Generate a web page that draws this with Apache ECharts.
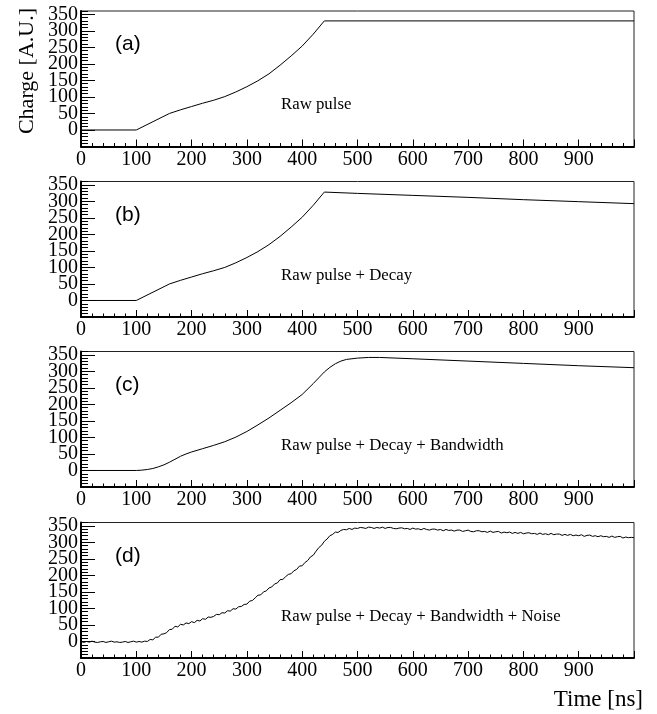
<!DOCTYPE html>
<html>
<head>
<meta charset="utf-8">
<script src="https://cdn.jsdelivr.net/npm/echarts@6/dist/echarts.min.js"></script>
<style>
  html, body { margin: 0; padding: 0; background: #fff; }
  #pulse-chart { width: 657px; height: 714px; }
</style>
</head>
<body>
<div id="pulse-chart"></div>
<script>
// (a) raw pulse
const rawTime = [0, 100, 160, 180, 200, 220, 240, 260, 280, 300, 320, 340, 360, 380, 400, 420, 440, 1000]
const rawCharge = [0, 0, 50, 61, 71, 81, 90, 101, 115, 131, 149, 170, 196, 224, 254, 290, 330, 330]

// (b) raw pulse + decay
const decayTime = [0, 100, 160, 180, 200, 220, 240, 260, 280, 300, 320, 340, 360, 380, 400, 420, 440, 500, 600, 700, 800, 900, 1000]
const decayCharge = [0, 0, 50, 61, 71, 81, 90, 100, 114, 130, 148, 169, 194, 222, 252, 288, 328, 324, 318, 312, 305, 299, 293]

// (c) + bandwidth
const bwTime = [0, 100, 110, 120, 130, 140, 150, 160, 170, 180, 190, 200, 220, 240, 260, 280, 300, 320, 340, 360,
  380, 400, 420, 440, 450, 460, 470, 480, 500, 520, 540, 600, 700, 800, 900, 1000]
const bwCharge = [0, 0, 1, 3, 6, 11, 17, 25, 34, 43, 50, 56, 66, 76, 87, 101, 118, 138, 159, 182,
  205, 230, 263, 298, 312, 323, 331, 336, 340, 342, 342, 338, 331, 324, 317, 311]

// (d) + noise, sampled every 5 ns from 0 to 1000
const noiseStep = 5
const noiseCharge = [
  0, -3, 0, -2, 1, -2, -3, -1, 0, -3,
  -1, 1, -2, -1, -3, -2, 0, -3, -1, 1,
  -2, 0, -2, 1, 0, 6, 5, 13, 13, 22,
  23, 27, 36, 37, 46, 44, 52, 50, 56, 54,
  60, 57, 64, 62, 69, 67, 74, 73, 76, 82,
  81, 87, 86, 93, 92, 99, 98, 105, 106, 112,
  113, 122, 124, 132, 140, 141, 150, 153, 162, 165,
  174, 177, 187, 188, 196, 203, 205, 214, 218, 228,
  229, 239, 245, 256, 261, 273, 284, 291, 303, 310,
  320, 324, 331, 330, 336, 339, 338, 342, 339, 343,
  342, 345, 344, 342, 346, 345, 342, 345, 343, 346,
  342, 345, 345, 342, 341, 343, 344, 341, 342, 339,
  343, 340, 341, 338, 342, 339, 337, 340, 340, 337,
  339, 335, 339, 336, 337, 334, 337, 337, 333, 335,
  337, 333, 332, 335, 335, 332, 333, 330, 334, 330,
  332, 333, 328, 331, 329, 331, 327, 330, 327, 330,
  326, 328, 329, 326, 327, 324, 328, 324, 326, 323,
  327, 323, 325, 325, 321, 324, 321, 324, 320, 322,
  320, 323, 318, 321, 322, 318, 320, 317, 320, 317,
  318, 315, 319, 315, 317, 318, 313, 316, 314, 315,
  314
]

const panelLabels = ['(a)', '(b)', '(c)', '(d)']
const panelNotes = ['Raw pulse', 'Raw pulse + Decay', 'Raw pulse + Decay + Bandwidth', 'Raw pulse + Decay + Bandwidth + Noise']
const xTitle = 'Time [ns]'
const yTitle = 'Charge [A.U.]'

const serif = 'Liberation Serif'
const zip = (xs, ys) => xs.map((x, i) => [x, ys[i]])
const noiseData = noiseCharge.map((v, i) => [i * noiseStep, v])
const panelData = [zip(rawTime, rawCharge), zip(decayTime, decayCharge), zip(bwTime, bwCharge), noiseData]

// 每个面板的位置
const panelTops = [11, 181.5, 351.5, 522.5]
const panelHeight = 135.5

const chart = echarts.init(document.getElementById('pulse-chart'))

const grids = panelTops.map(top => ({
  left: 81,
  top: top,
  width: 553,
  height: panelHeight,
  show: true,
  borderColor: '#222',
  borderWidth: 1,
  containLabel: false
}))

const xAxes = panelTops.map((t, i) => ({
  type: 'value',
  gridIndex: i,
  min: 0,
  max: 1000,
  interval: 100,
  axisLine: { show: true, onZero: false, lineStyle: { color: '#000', width: 2 } },
  axisTick: { show: true, inside: true, length: 7, lineStyle: { color: '#000' } },
  minorTick: { show: true, splitNumber: 5, length: 3.5, lineStyle: { color: '#000' } },
  axisLabel: { color: '#000', fontFamily: serif, fontSize: 20, margin: 3, showMaxLabel: false },
  splitLine: { show: false }
}))

// 主刻度 (50) 带标签
const yMain = panelTops.map((t, i) => ({
  type: 'value',
  gridIndex: i,
  min: -50,
  max: 360,
  interval: 50,
  axisLine: { show: true, onZero: false, lineStyle: { color: '#000', width: 2 } },
  axisTick: { show: true, inside: true, length: 14, lineStyle: { color: '#000' } },
  axisLabel: { color: '#000', fontFamily: serif, fontSize: 20, margin: 3, showMinLabel: false, showMaxLabel: false },
  splitLine: { show: false }
}))

// 次刻度 (10) 只画刻度线
const yMinor = panelTops.map((t, i) => ({
  type: 'value',
  gridIndex: i,
  min: -50,
  max: 360,
  interval: 10,
  position: 'left',
  axisLine: { show: false },
  axisTick: { show: true, inside: true, length: 7, lineStyle: { color: '#000' } },
  axisLabel: { show: false },
  splitLine: { show: false }
}))

const series = panelData.map((data, i) => ({
  type: 'line',
  xAxisIndex: i,
  yAxisIndex: i,
  data: data,
  showSymbol: false,
  lineStyle: { color: '#000', width: 1 },
  silent: true
}))

const graphics = []
panelTops.forEach((top, i) => {
  graphics.push({
    type: 'text',
    left: 115,
    top: top + 34 - 11,
    style: { text: panelLabels[i], fontFamily: 'Liberation Sans', fontSize: 21, fill: '#000' }
  })
  graphics.push({
    type: 'text',
    x: 281,
    y: top + 94,
    style: { text: panelNotes[i], fontFamily: serif, fontSize: 16.8, fill: '#000', textAlign: 'left', textVerticalAlign: 'middle' }
  })
})
graphics.push({
  type: 'text',
  x: 27,
  y: 8,
  rotation: Math.PI / 2,
  style: { text: yTitle, fontFamily: serif, fontSize: 22, fill: '#000', textAlign: 'right', textVerticalAlign: 'middle' }
})
graphics.push({
  type: 'text',
  x: 643,
  y: 700,
  style: { text: xTitle, fontFamily: serif, fontSize: 23, fill: '#000', textAlign: 'right', textVerticalAlign: 'middle' }
})

const option = {
  animation: false,
  backgroundColor: '#fff',
  grid: grids,
  xAxis: xAxes,
  yAxis: yMain.concat(yMinor),
  series: series,
  graphic: graphics
}
chart.setOption(option)
</script>
</body>
</html>
